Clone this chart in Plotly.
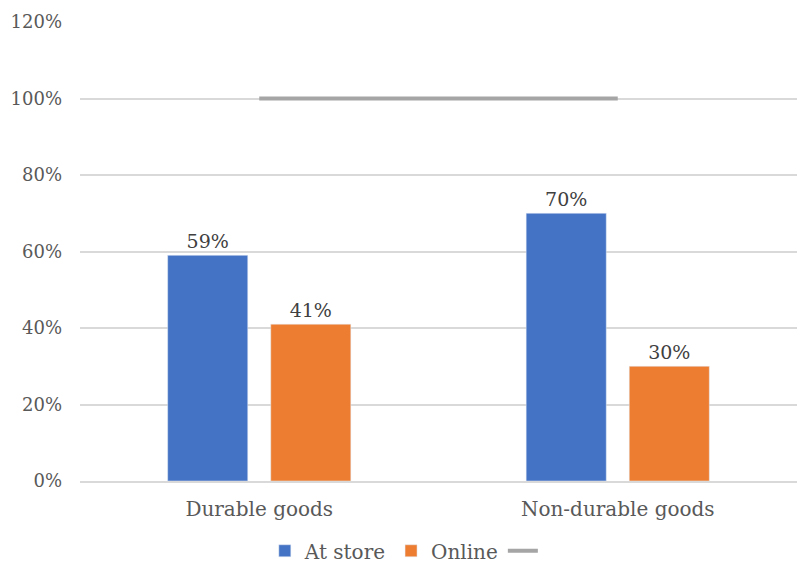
import plotly.graph_objects as go

categories = ["Durable goods", "Non-durable goods"]
at_store = [59, 70]
online = [41, 30]
total = [100, 100]
y_ticks = [0, 20, 40, 60, 80, 100, 120]

TEXT = "#595959"
FONT = "DejaVu Serif"

fig = go.Figure()
fig.add_trace(go.Bar(
    x=categories, y=at_store, name="At store",
    marker=dict(color="#4472C4"),
    text=[f"{v}%" for v in at_store], textposition="outside",
    textfont=dict(family=FONT, size=19, color="#404040"), cliponaxis=False,
))
fig.add_trace(go.Bar(
    x=categories, y=online, name="Online",
    marker=dict(color="#ED7D31"),
    text=[f"{v}%" for v in online], textposition="outside",
    textfont=dict(family=FONT, size=19, color="#404040"), cliponaxis=False,
))
fig.add_trace(go.Scatter(
    x=categories, y=total, name=" ", mode="lines",
    line=dict(color="#A5A5A5", width=4),
))

fig.update_layout(
    width=800, height=567,
    margin=dict(l=80, r=3, t=22, b=86, autoexpand=False),
    plot_bgcolor="white", paper_bgcolor="white",
    barmode="group", bargap=0.425, bargroupgap=0.223,
    font=dict(family=FONT, size=18, color=TEXT),
    showlegend=True,
    legend=dict(
        orientation="h", x=0.46, xanchor="center", y=-0.152, yanchor="middle",
        font=dict(family=FONT, size=20, color=TEXT),
        traceorder="normal", itemwidth=30,
    ),
)
fig.update_xaxes(
    showline=True, linecolor="#D9D9D9", linewidth=1.5, automargin=False,
    ticks="", tickfont=dict(family=FONT, size=20, color=TEXT),
    ticklabelstandoff=9,
)
fig.update_yaxes(
    range=[0, 120], tickvals=y_ticks, ticktext=[f"{v}%" for v in y_ticks],
    showgrid=True, gridcolor="#D9D9D9", gridwidth=1.5, zeroline=False,
    automargin=False,
    tickfont=dict(family=FONT, size=18, color=TEXT), ticklabelstandoff=17,
)

fig.write_html("out.html")
